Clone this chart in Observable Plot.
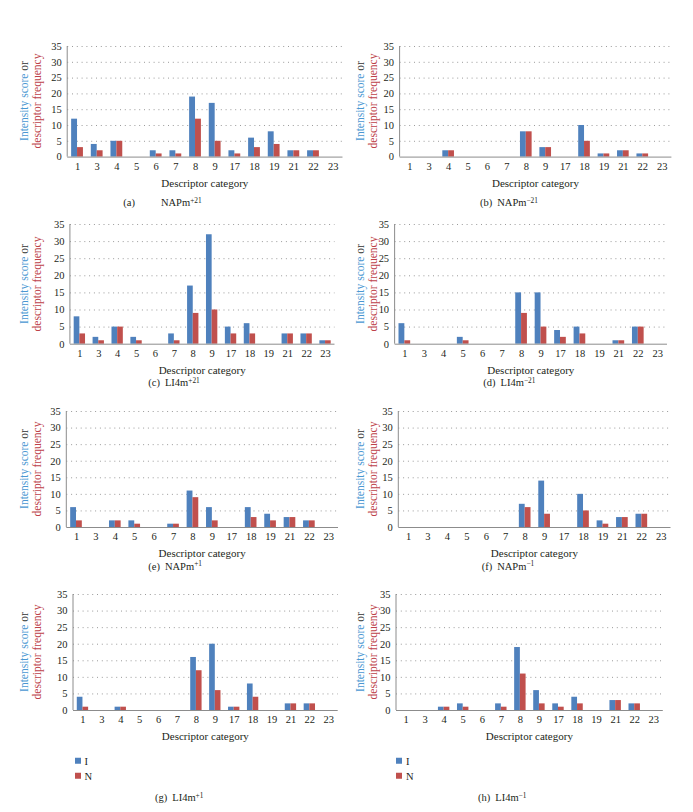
<!DOCTYPE html>
<html><head><meta charset="utf-8">
<script src="https://cdn.jsdelivr.net/npm/d3@7"></script>
<script src="https://cdn.jsdelivr.net/npm/@observablehq/plot@0.6"></script>
<style>
html,body{margin:0;padding:0;background:#fff;}
#page{position:relative;width:693px;height:812px;overflow:hidden;font-family:"Liberation Serif","Times New Roman",serif;color:#231f20;}
.ytitle{position:absolute;white-space:nowrap;font-size:11.5px;line-height:1;transform:translate(-50%,-50%) rotate(-90deg);}
.xtitle{position:absolute;white-space:nowrap;font-size:11px;line-height:1;transform:translate(-50%,-50%);}
.cap{position:absolute;white-space:nowrap;font-size:10.5px;line-height:1;transform:translateY(-50%);}
.cap sup{font-size:0.7em;vertical-align:0;position:relative;top:-0.45em;}
.leg{position:absolute;white-space:nowrap;font-size:10.5px;line-height:1;transform:translateY(-50%);}
.sw{display:inline-block;width:6px;height:6px;margin-right:4px;vertical-align:1px;}
</style></head>
<body><div id="page"></div>
<script>
// ---- data ----
const categories = ["1","3","4","5","6","7","8","9","17","18","19","21","22","23"];
const seriesNames = ["I","N"];
const yTicks = [0,5,10,15,20,25,30,35];
const panelLetters = ["a","b","c","d","e","f","g","h"];
const panelNames = ["NAPm","NAPm","LI4m","LI4m","NAPm","NAPm","LI4m","LI4m"];
const panelSups = ["+21","\u221221","+21","\u221221","+1","\u22121","+1","\u22121"];
const xTitle = "Descriptor category";
const yTitleA = "Intensity score";
const yTitleOr = "or";
const yTitleB = "descriptor frequency";

const I_a = [12,4,5,0,2,2,19,17,2,6,8,2,2,0];
const N_a = [3,2,5,0,1,1,12,5,1,3,4,2,2,0];
const I_b = [0,0,2,0,0,0,8,3,0,10,1,2,1,0];
const N_b = [0,0,2,0,0,0,8,3,0,5,1,2,1,0];
const I_c = [8,2,5,2,0,3,17,32,5,6,0,3,3,1];
const N_c = [3,1,5,1,0,1,9,10,3,3,0,3,3,1];
const I_d = [6,0,0,2,0,0,15,15,4,5,0,1,5,0];
const N_d = [1,0,0,1,0,0,9,5,2,3,0,1,5,0];
const I_e = [6,0,2,2,0,1,11,6,0,6,4,3,2,0];
const N_e = [2,0,2,1,0,1,9,2,0,3,2,3,2,0];
const I_f = [0,0,0,0,0,0,7,14,0,10,2,3,4,0];
const N_f = [0,0,0,0,0,0,6,4,0,5,1,3,4,0];
const I_g = [4,0,1,0,0,0,16,20,1,8,0,2,2,0];
const N_g = [1,0,1,0,0,0,12,6,1,4,0,2,2,0];
const I_h = [0,0,1,2,0,2,19,6,2,4,0,3,2,0];
const N_h = [0,0,1,1,0,1,11,2,1,2,0,3,2,0];
const iVals = [I_a,I_b,I_c,I_d,I_e,I_f,I_g,I_h];
const nVals = [N_a,N_b,N_c,N_d,N_e,N_f,N_g,N_h];

// ---- layout (pixels) ----
const frames = [ // [left, right, top(35), bottom(0)]
  [67.2,342.5,45.7,156.3],[399.6,671.4,45.7,156.3],
  [69.9,334.5,224,343.7],[394.6,667,224,343.7],
  [66.3,338,410.7,526.7],[398.3,670.5,410.7,526.7],
  [73,337.7,594,710],[396,662.8,594,710]
];
const yTitleX = [[25,38],[360.5,373.5]];
// [left x, centre y, gap after letter]
const capPos = [[123.3,203,26],[480,203,5],[148.3,383.3,5],[483.3,383.3,5],
                [148.3,566.7,5],[481.7,566.7,5],[155,798,5],[478,798,5]];
const legendX = [74.5,396];
const legendY = [761.7,776.7];
const colors = {I:"#4f81bd", N:"#c0504d"};
const FONT = "'Liberation Serif','Times New Roman',serif";

const page = document.getElementById("page");

function addDiv(cls, html, x, y) {
  const d = document.createElement("div");
  d.className = cls; d.innerHTML = html;
  d.style.left = x + "px"; d.style.top = y + "px";
  page.appendChild(d); return d;
}

frames.forEach(([L,R,T,B], k) => {
  const col = L < 346 ? 0 : 1;
  const colX = col === 0 ? 0 : 346;
  const W = 347;
  const mt = 8, mb = 22;
  const data = categories.map((c,i) => ({cat:c, I:iVals[k][i], N:nVals[k][i]}));
  const step = (R - L) / categories.length;
  const bw = step * 0.6;
  const plot = Plot.plot({
    width: W, height: (B - T) + mt + mb,
    marginLeft: L - colX, marginRight: colX + W - R, marginTop: mt, marginBottom: mb,
    style: {fontFamily: FONT, fontSize: "10.5px", color: "#231f20", background: "transparent", overflow: "visible"},
    x: {type: "band", domain: categories, paddingInner: 0.4, paddingOuter: 0.2, round: false, tickSize: 0, tickPadding: 5, label: null},
    y: {domain: [0,35], ticks: yTicks, tickSize: 0, tickPadding: 6, label: null},
    marks: [
      Plot.gridY(yTicks.slice(1), {stroke: "#9a9a9a", strokeOpacity: 1, strokeWidth: 1, strokeDasharray: "1,3.8"}),
      Plot.barY(data, {x: "cat", y: "I", fill: colors.I, insetRight: bw/2}),
      Plot.barY(data, {x: "cat", y: "N", fill: colors.N, insetLeft: bw/2}),
      Plot.ruleY([0], {stroke: "#8c8c8c", strokeWidth: 1})
    ]
  });
  plot.style.position = "absolute";
  plot.style.left = colX + "px";
  plot.style.top = (T - mt) + "px";
  const xr = plot.scale("x").range, yr = plot.scale("y").range;
  d3.select(plot).append("line")
    .attr("x1", xr[0]).attr("x2", xr[0])
    .attr("y1", Math.min(...yr)).attr("y2", Math.max(...yr))
    .attr("stroke", "#8c8c8c").attr("stroke-width", 1);
  page.appendChild(plot);

  // axis titles
  const cy = (T + B) / 2;
  addDiv("ytitle", `<span style="color:#4a97d2">${yTitleA}</span> <span style="color:#333">${yTitleOr}</span>`, yTitleX[col][0], cy);
  addDiv("ytitle", `<span style="color:#bd4149">${yTitleB}</span>`, yTitleX[col][1], cy);
  addDiv("xtitle", xTitle, (L + R) / 2, B + 26.3);

  // caption
  const [cx, capy, gap] = capPos[k];
  addDiv("cap", `(${panelLetters[k]})<span style="display:inline-block;width:${gap}px"></span>${panelNames[k]}<sup>${panelSups[k]}</sup>`, cx, capy);
});

// legends below bottom panels
legendX.forEach(lx => {
  seriesNames.forEach((s, j) => {
    addDiv("leg", `<span class="sw" style="background:${colors[s]}"></span>${s}`, lx, legendY[j]);
  });
});
</script>
</body></html>
